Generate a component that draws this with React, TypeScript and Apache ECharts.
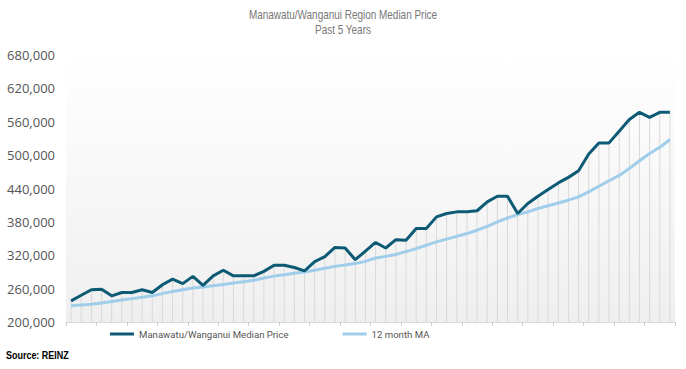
import React, { useEffect, useRef } from "react";
import * as echarts from "echarts";

const months: string[] = Array.from({ length: 60 }, (_, i) => `M${i + 1}`);

const medianPrice: number[] = [
  238000, 248000, 258000, 259000, 247000, 253000, 253000, 258000, 253000, 267000,
  277000, 269000, 282000, 266000, 283000, 293000, 283000, 283000, 283000, 291000,
  302000, 302000, 298000, 292000, 308500, 317500, 334000, 333000, 312000, 327500,
  343000, 333000, 348000, 347000, 368000, 368000, 389000, 395000, 398000, 398000,
  400000, 416000, 426000, 426000, 395000, 413000, 426000, 438000, 450000, 460000,
  472000, 502000, 522000, 522000, 543000, 564000, 577000, 568000, 577000, 577000,
];

const movingAvg: number[] = [
  229000, 230500, 232000, 234000, 237000, 239500, 242000, 244500, 247000, 251000,
  255000, 258000, 261000, 263000, 265000, 267500, 270000, 272500, 275000, 279000,
  282500, 285000, 287500, 290000, 293000, 296500, 300000, 302500, 305000, 309000,
  315000, 318000, 321500, 326500, 332000, 338000, 344000, 349000, 354000, 359000,
  365000, 372000, 380000, 387000, 393000, 398000, 404000, 409000, 414000, 419000,
  425000, 434000, 444000, 454000, 463500, 476000, 490000, 503000, 514000, 528000,
];

const seriesNames = ["Manawatu/Wanganui Median Price", "12 month MA"];
const titleLines = ["Manawatu/Wanganui Region Median Price", "Past 5 Years"];
const sourceText = "Source: REINZ";

const SANS = "'Liberation Sans', Arial, sans-serif";

export default function App() {
  const ref = useRef<HTMLDivElement>(null);
  useEffect(() => {
    if (!ref.current) return;
    const chart = echarts.init(ref.current, undefined, { renderer: "svg" });
    chart.setOption({
      animation: false,
      backgroundColor: "#ffffff",
      legend: {
        data: seriesNames,
        left: 110,
        top: 329,
        padding: 0,
        icon: "rect",
        itemWidth: 24,
        itemHeight: 3,
        itemGap: 54,
        textStyle: { fontFamily: "Roboto, sans-serif", fontSize: 9.6, color: "#555555" },
      },
      grid: {
        left: 66,
        right: 11,
        top: 55,
        bottom: 47,
        show: true,
        borderWidth: 0,
        backgroundColor: new echarts.graphic.LinearGradient(0, 0, 0, 1, [
          { offset: 0, color: "#ffffff" },
          { offset: 1, color: "#efefef" },
        ]),
      },
      xAxis: {
        type: "category",
        data: months,
        boundaryGap: true,
        axisLine: { show: true, lineStyle: { color: "#d9d9d9", width: 1 } },
        axisTick: { show: true, length: 4, lineStyle: { color: "#d0d0d0" } },
        axisLabel: { show: false },
        splitLine: { show: false },
      },
      yAxis: {
        type: "value",
        min: 200000,
        max: 680000,
        interval: 60000,
        axisLine: { show: false },
        axisTick: { show: false },
        splitLine: { show: false },
        axisLabel: {
          margin: 11,
          fontFamily: "'Open Sans', sans-serif",
          fontSize: 13,
          color: "#555555",
          formatter: (v: number) => v.toLocaleString("en-US"),
        },
      },
      series: [
        {
          name: "drop",
          type: "bar",
          data: medianPrice,
          barWidth: 1,
          silent: true,
          itemStyle: { color: "#d9d9d9" },
          z: 1,
        },
        {
          name: seriesNames[1],
          type: "line",
          data: movingAvg,
          symbol: "none",
          lineStyle: { color: "#9fcdea", width: 3 },
          itemStyle: { color: "#9fcdea" },
          z: 3,
        },
        {
          name: seriesNames[0],
          type: "line",
          data: medianPrice,
          symbol: "none",
          lineStyle: { color: "#0c5a74", width: 3 },
          itemStyle: { color: "#0c5a74" },
          z: 4,
        },
      ],
      graphic: [
        {
          type: "text",
          x: 343,
          y: 15,
          scaleX: 0.83,
          style: {
            text: titleLines[0],
            align: "center",
            verticalAlign: "middle",
            fontFamily: SANS,
            fontSize: 12,
            fill: "#777777",
          },
        },
        {
          type: "text",
          x: 343,
          y: 29.5,
          scaleX: 0.83,
          style: {
            text: titleLines[1],
            align: "center",
            verticalAlign: "middle",
            fontFamily: SANS,
            fontSize: 12,
            fill: "#777777",
          },
        },
        {
          type: "text",
          x: 6,
          y: 355.5,
          scaleX: 0.78,
          style: {
            text: sourceText,
            align: "left",
            verticalAlign: "middle",
            fontFamily: SANS,
            fontSize: 11.5,
            fontWeight: "bold",
            fill: "#000000",
          },
        },
      ],
    });
    return () => chart.dispose();
  }, []);
  return <div ref={ref} style={{ width: 686, height: 369, position: "absolute", left: 0, top: 0 }} />;
}
